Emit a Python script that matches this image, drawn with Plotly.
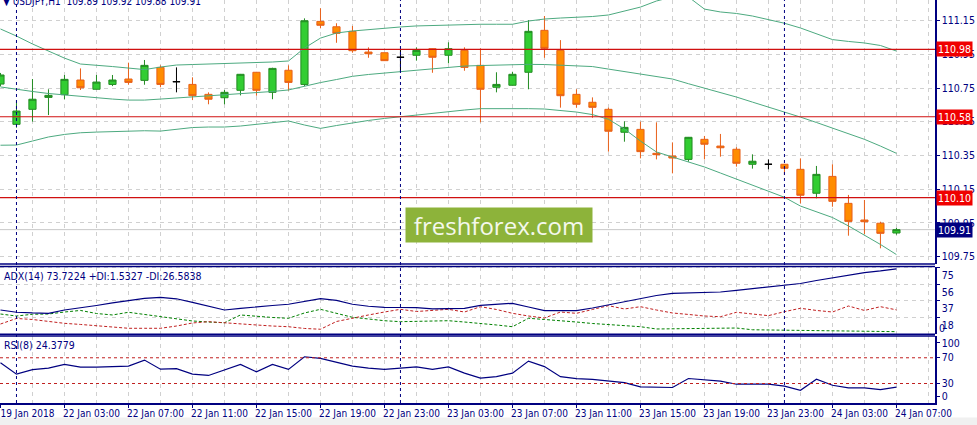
import plotly.graph_objects as go
from plotly.subplots import make_subplots

# USDJPY H1 bars, 19 Jan 23:00 .. 24 Jan 07:00
times = (["2018-01-19 23:00"]
         + [f"2018-01-22 {h:02d}:00" for h in range(24)]
         + [f"2018-01-23 {h:02d}:00" for h in range(24)]
         + [f"2018-01-24 {h:02d}:00" for h in range(8)])

x_labels = ["19 Jan 2018", "22 Jan 03:00", "22 Jan 07:00", "22 Jan 11:00",
            "22 Jan 15:00", "22 Jan 19:00", "22 Jan 23:00", "23 Jan 03:00",
            "23 Jan 07:00", "23 Jan 11:00", "23 Jan 15:00", "23 Jan 19:00",
            "23 Jan 23:00", "24 Jan 03:00", "24 Jan 07:00"]

opens = [110.774, 110.535, 110.624, 110.695, 110.711, 110.798, 110.743, 110.772,
         110.804, 110.796, 110.873, 110.788, 110.772, 110.713, 110.693, 110.737,
         110.844, 110.725, 110.856, 110.772, 111.146, 111.114, 111.087, 110.964,
         110.960, 110.933, 110.945, 110.984, 110.945, 110.974, 110.885, 110.755,
         110.767, 110.844, 111.093, 110.974, 110.713, 110.666, 110.624, 110.488,
         110.505, 110.363, 110.347, 110.327, 110.446, 110.406, 110.387, 110.298,
         110.298, 110.298, 110.268, 110.126, 110.226, 110.066, 109.967, 109.948,
         109.890]
highs = [110.840, 110.679, 110.804, 110.743, 110.828, 110.867, 110.828, 110.828,
         110.901, 110.917, 110.885, 110.873, 110.814, 110.725, 110.739, 110.834,
         110.846, 110.871, 110.885, 111.164, 111.224, 111.135, 111.119, 110.992,
         110.961, 110.980, 110.992, 110.985, 111.022, 110.992, 110.986, 110.844,
         110.847, 111.154, 111.178, 111.035, 110.743, 110.695, 110.634, 110.553,
         110.551, 110.547, 110.428, 110.460, 110.466, 110.478, 110.399, 110.357,
         110.327, 110.300, 110.333, 110.288, 110.298, 110.116, 110.086, 109.957,
         109.920]
lows = [110.760, 110.515, 110.551, 110.590, 110.684, 110.739, 110.742, 110.762,
        110.770, 110.770, 110.755, 110.725, 110.679, 110.654, 110.654, 110.707,
        110.705, 110.684, 110.735, 110.762, 111.105, 111.019, 110.960, 110.930,
        110.911, 110.844, 110.913, 110.841, 110.897, 110.853, 110.547, 110.725,
        110.765, 110.743, 110.930, 110.634, 110.634, 110.574, 110.373, 110.432,
        110.333, 110.327, 110.244, 110.313, 110.327, 110.343, 110.284, 110.272,
        110.268, 110.234, 110.066, 110.096, 110.046, 109.874, 109.884, 109.799,
        109.880]
closes = [110.828, 110.614, 110.684, 110.707, 110.802, 110.752, 110.786, 110.798,
          110.784, 110.885, 110.772, 110.788, 110.705, 110.684, 110.725, 110.832,
          110.737, 110.867, 110.784, 111.150, 111.123, 111.075, 110.972, 110.954,
          110.913, 110.933, 110.974, 110.933, 110.984, 110.873, 110.743, 110.772,
          110.832, 111.087, 110.986, 110.705, 110.654, 110.636, 110.494, 110.517,
          110.373, 110.355, 110.335, 110.458, 110.417, 110.396, 110.304, 110.316,
          110.298, 110.274, 110.114, 110.238, 110.078, 109.959, 109.957, 109.888,
          109.910]

bb_upper = [111.101, 111.059, 111.012, 110.970, 110.928, 110.893, 110.887, 110.878,
            110.869, 110.860, 110.875, 110.887, 110.890, 110.893, 110.893, 110.896,
            110.899, 110.905, 110.911, 110.988, 111.047, 111.077, 111.089, 111.098,
            111.107, 111.113, 111.119, 111.122, 111.124, 111.127, 111.129, 111.129,
            111.129, 111.148, 111.160, 111.166, 111.169, 111.175, 111.184, 111.208,
            111.231, 111.267, 111.291, 111.291, 111.219, 111.202, 111.193, 111.178,
            111.157, 111.135, 111.107, 111.074, 111.038, 111.027, 111.018, 111.003,
            110.970]
bb_middle = [110.757, 110.742, 110.730, 110.718, 110.709, 110.700, 110.691, 110.685,
             110.679, 110.679, 110.685, 110.691, 110.697, 110.703, 110.709, 110.715,
             110.721, 110.730, 110.739, 110.762, 110.783, 110.801, 110.820, 110.831,
             110.840, 110.849, 110.854, 110.863, 110.872, 110.881, 110.884, 110.887,
             110.889, 110.891, 110.890, 110.887, 110.882, 110.878, 110.863, 110.849,
             110.834, 110.819, 110.804, 110.776, 110.751, 110.724, 110.697, 110.667,
             110.638, 110.610, 110.578, 110.546, 110.513, 110.479, 110.446, 110.406,
             110.363]
bb_lower = [110.411, 110.412, 110.436, 110.460, 110.475, 110.485, 110.489, 110.492,
            110.495, 110.497, 110.495, 110.504, 110.516, 110.519, 110.519, 110.525,
            110.534, 110.543, 110.555, 110.531, 110.511, 110.528, 110.545, 110.558,
            110.570, 110.580, 110.593, 110.602, 110.614, 110.620, 110.628, 110.629,
            110.629, 110.628, 110.626, 110.617, 110.608, 110.593, 110.565, 110.507,
            110.436, 110.371, 110.341, 110.311, 110.282, 110.246, 110.210, 110.175,
            110.139, 110.102, 110.050, 110.015, 109.982, 109.932, 109.878, 109.822,
            109.762]

adx = [26.4, 23.8, 23.0, 22.6, 26.4, 28.7, 31.6, 34.5, 37.1, 39.7, 41.0, 39.3,
       35.1, 30.5, 26.4, 28.2, 30.2, 31.6, 33.0, 36.2, 39.4, 37.4, 33.0, 30.7,
       29.5, 29.3, 29.1, 27.6, 28.2, 28.2, 31.8, 32.8, 34.1, 29.9, 25.6, 25.6,
       25.6, 28.7, 32.2, 36.2, 39.9, 43.1, 45.6, 46.2, 46.8, 47.1, 48.9, 50.9,
       52.9, 54.6, 56.9, 60.3, 63.4, 66.7, 69.3, 71.3, 73.72]
plus_di = [21.8, 19.5, 21.5, 21.8, 24.1, 25.9, 22.4, 20.7, 23.8, 21.3, 18.7, 16.1,
           13.8, 12.6, 11.8, 20.7, 19.0, 17.8, 16.9, 23.0, 27.2, 22.4, 18.0, 16.1,
           14.1, 13.0, 13.2, 13.6, 14.1, 12.6, 11.1, 9.2, 7.2, 16.9, 15.5, 14.4,
           12.6, 10.9, 9.8, 8.4, 7.2, 4.6, 4.8, 5.2, 5.4, 5.5, 5.7, 3.7,
           3.4, 3.2, 2.9, 2.6, 2.3, 2.0, 1.7, 1.5, 1.53]
minus_di = [10.3, 16.7, 15.5, 13.2, 11.1, 9.8, 8.6, 6.9, 5.4, 5.4, 5.4, 8.0,
            11.5, 13.0, 11.5, 10.3, 9.2, 8.0, 7.2, 5.2, 4.3, 13.2, 17.2, 20.7,
            24.1, 27.2, 24.7, 25.9, 27.2, 24.1, 30.2, 27.0, 22.6, 19.5, 17.2, 24.1,
            22.6, 27.0, 31.4, 27.6, 30.2, 26.4, 23.0, 21.3, 19.5, 18.7, 23.8, 21.8,
            19.9, 24.5, 28.4, 25.9, 24.1, 31.0, 25.9, 30.2, 26.58]
rsi = [62.2, 44.5, 51.6, 53.9, 59.7, 55.5, 55.5, 56.6, 57.0, 66.4, 52.3, 53.1,
       44.5, 42.5, 51.6, 59.7, 48.1, 59.7, 51.9, 71.6, 69.1, 63.3, 57.0, 53.9,
       51.9, 53.9, 55.9, 51.9, 55.9, 46.1, 38.3, 40.6, 46.1, 64.8, 56.3, 40.6,
       37.5, 36.3, 33.6, 31.3, 24.7, 24.2, 23.8, 37.8, 35.9, 33.6, 28.9, 28.9,
       28.9, 25.8, 19.5, 36.7, 27.3, 23.1, 23.1, 20.6, 24.38]

levels = [110.98, 110.58, 110.10]
last_price = 109.91
price_ticks = [109.75, 109.95, 110.15, 110.35, 110.55, 110.75, 110.95, 111.15]
day_starts = ["2018-01-22 00:00", "2018-01-23 00:00", "2018-01-24 00:00"]

NAVY = "#000080"
GRID = "#D0D0D0"
FONT = "Liberation Sans Narrow, DejaVu Sans Condensed, Liberation Sans, sans-serif"
FS = 10.5

xs = list(range(len(times)))
body = [i for i in xs if opens[i] != closes[i]]
doji = [i for i in xs if opens[i] == closes[i]]

fig = make_subplots(rows=3, cols=1, shared_xaxes=True, vertical_spacing=0.0)

fig.add_trace(go.Candlestick(
    x=[xs[i] for i in body],
    open=[opens[i] for i in body], high=[highs[i] for i in body],
    low=[lows[i] for i in body], close=[closes[i] for i in body],
    increasing=dict(fillcolor="#32CD32", line=dict(color="#228B22", width=1)),
    decreasing=dict(fillcolor="#FF8C00", line=dict(color="#E8601A", width=1)),
    whiskerwidth=0), row=1, col=1)
fig.add_trace(go.Candlestick(
    x=[xs[i] for i in doji],
    open=[opens[i] for i in doji], high=[highs[i] for i in doji],
    low=[lows[i] for i in doji], close=[closes[i] for i in doji],
    increasing=dict(fillcolor="black", line=dict(color="black", width=1)),
    decreasing=dict(fillcolor="black", line=dict(color="black", width=1)),
    whiskerwidth=0), row=1, col=1)

for band in (bb_upper, bb_middle, bb_lower):
    fig.add_trace(go.Scatter(x=xs, y=band, mode="lines",
                             line=dict(color="#4DAA80", width=1)), row=1, col=1)

fig.add_trace(go.Scatter(x=xs, y=plus_di, mode="lines",
                         line=dict(color="#008000", width=1, dash="3px,2px")), row=2, col=1)
fig.add_trace(go.Scatter(x=xs, y=minus_di, mode="lines",
                         line=dict(color="#C02020", width=1, dash="3px,2px")), row=2, col=1)
fig.add_trace(go.Scatter(x=xs, y=adx, mode="lines",
                         line=dict(color=NAVY, width=1.2)), row=2, col=1)
fig.add_trace(go.Scatter(x=xs, y=rsi, mode="lines",
                         line=dict(color=NAVY, width=1.2)), row=3, col=1)

# horizontal levels and price labels
shapes = []
annotations = []
for lv in levels:
    shapes.append(dict(type="line", xref="x domain", x0=0, x1=1, yref="y",
                       y0=lv, y1=lv, line=dict(color="#D01010", width=1.2)))
    annotations.append(dict(xref="paper", x=1, xanchor="left", xshift=1,
                            yref="y", y=lv, text=f"{lv:.2f}", showarrow=False,
                            bgcolor="#F00000", borderpad=1,
                            font=dict(color="white", size=FS, family=FONT)))
shapes.append(dict(type="line", xref="x domain", x0=0, x1=1, yref="y",
                   y0=last_price, y1=last_price, layer="below",
                   line=dict(color="#C8C8C8", width=1)))
annotations.append(dict(xref="paper", x=1, xanchor="left", xshift=1,
                        yref="y", y=last_price, text=f"{last_price:.2f}",
                        showarrow=False, bgcolor=NAVY, borderpad=1,
                        font=dict(color="white", size=FS, family=FONT)))

# RSI levels
for lv in (70, 30):
    shapes.append(dict(type="line", xref="x3 domain", x0=0, x1=1, yref="y3",
                       y0=lv, y1=lv, line=dict(color="#C02020", width=1, dash="3px,3px")))

# day separators
for d in day_starts:
    pos = times.index(d)
    shapes.append(dict(type="line", xref="x", x0=pos, x1=pos, yref="paper",
                       y0=0, y1=1, line=dict(color=NAVY, width=1, dash="3px,3px")))

# window borders
for ref, yy in (("y domain", 0), ("y2 domain", 1), ("y2 domain", 0), ("y3 domain", 1)):
    shapes.append(dict(type="line", xref="paper", x0=0, x1=1, yref=ref,
                       y0=yy, y1=yy, line=dict(color=NAVY, width=1.5)))

# status strip under the time scale
shapes.append(dict(type="rect", xref="paper", x0=0, x1=1.05, yref="paper",
                   y0=-0.06, y1=-0.036, fillcolor="#F0F0F0", line=dict(width=0),
                   layer="below"))

annotations += [
    dict(xref="paper", x=0, xanchor="left", xshift=1, yref="paper", y=1,
         yanchor="middle", yshift=-1, showarrow=False,
         text="▼ USDJPY,H1  109.89 109.92 109.88 109.91",
         font=dict(color=NAVY, size=10, family=FONT)),
    dict(xref="paper", x=0, xanchor="left", xshift=2, yref="y2 domain", y=1,
         yanchor="top", yshift=-1, showarrow=False,
         text="ADX(14) 73.7224 +DI:1.5327 -DI:26.5838",
         font=dict(color=NAVY, size=FS, family=FONT)),
    dict(xref="paper", x=0, xanchor="left", xshift=2, yref="y3 domain", y=1,
         yanchor="top", yshift=-1, showarrow=False, text="RSI(8) 24.3779",
         font=dict(color=NAVY, size=FS, family=FONT)),
    dict(xref="paper", x=1, xanchor="left", xshift=2, yref="y2", y=0,
         yshift=5, showarrow=False, text="0",
         font=dict(color=NAVY, size=FS, family=FONT)),
    dict(xref="paper", x=0.534, yref="paper", y=0.442, showarrow=False,
         text="freshforex.com", bgcolor="#8DB33A", width=182, height=30,
         borderpad=2, font=dict(color="#F4F8EC", size=24, family="Open Sans")),
]

fig.update_layout(
    width=977, height=425,
    margin=dict(l=0, r=42, t=0, b=22, autoexpand=False),
    paper_bgcolor="white", plot_bgcolor="white",
    showlegend=False, hovermode=False, boxgap=0.36,
    font=dict(family=FONT, size=FS, color=NAVY),
    shapes=shapes, annotations=annotations,
)

grid_vals = list(range(0, 59, 2))
for n in (1, 2, 3):
    fig.update_xaxes(row=n, col=1, range=[-0.03, 58.41], rangeslider_visible=False,
                     showgrid=True, gridcolor=GRID, griddash="4px,4px", gridwidth=1,
                     zeroline=False, tickvals=grid_vals, showticklabels=False, ticks="",
                     automargin=False)
fig.update_xaxes(row=3, col=1, tickvals=xs[::4], ticktext=x_labels,
                 showticklabels=True, ticks="outside", ticklen=3, tickcolor=NAVY,
                 tickangle=0, ticklabelshift=27, ticklabelstandoff=-3,
                 ticklabeloverflow="allow", tickfont=dict(size=10),
                 showline=True, linecolor=NAVY, linewidth=1.5,
                 minor=dict(tickvals=list(range(2, 59, 4)), showgrid=True,
                            gridcolor=GRID, griddash="4px,4px", ticks=""))

axis_common = dict(side="right", showline=True, linecolor=NAVY, linewidth=1.5,
                   ticks="outside", ticklen=3, tickcolor=NAVY, zeroline=False,
                   gridcolor=GRID, griddash="4px,4px", fixedrange=True,
                   automargin=False, ticklabeloverflow="allow")
fig.update_yaxes(row=1, col=1, domain=[0.3449, 1.0], range=[109.706, 111.273],
                 tickvals=price_ticks, ticktext=[f"{p:.2f}" for p in price_ticks],
                 showgrid=True, **axis_common)
fig.update_yaxes(row=2, col=1, domain=[0.1705, 0.3387], range=[-1.5, 76.4],
                 tickvals=[18, 37, 56, 75], ticklabelshift=8,
                 showgrid=True, **axis_common)
fig.update_yaxes(row=3, col=1, domain=[0.0, 0.1663], range=[-0.3, 103.9],
                 tickvals=[10.2, 30, 70, 93], ticktext=["0", "30", "70", "100"],
                 showgrid=False, **axis_common)

fig.write_html("out.html", config={"displayModeBar": False},
               post_script="document.body.style.margin='0';")
